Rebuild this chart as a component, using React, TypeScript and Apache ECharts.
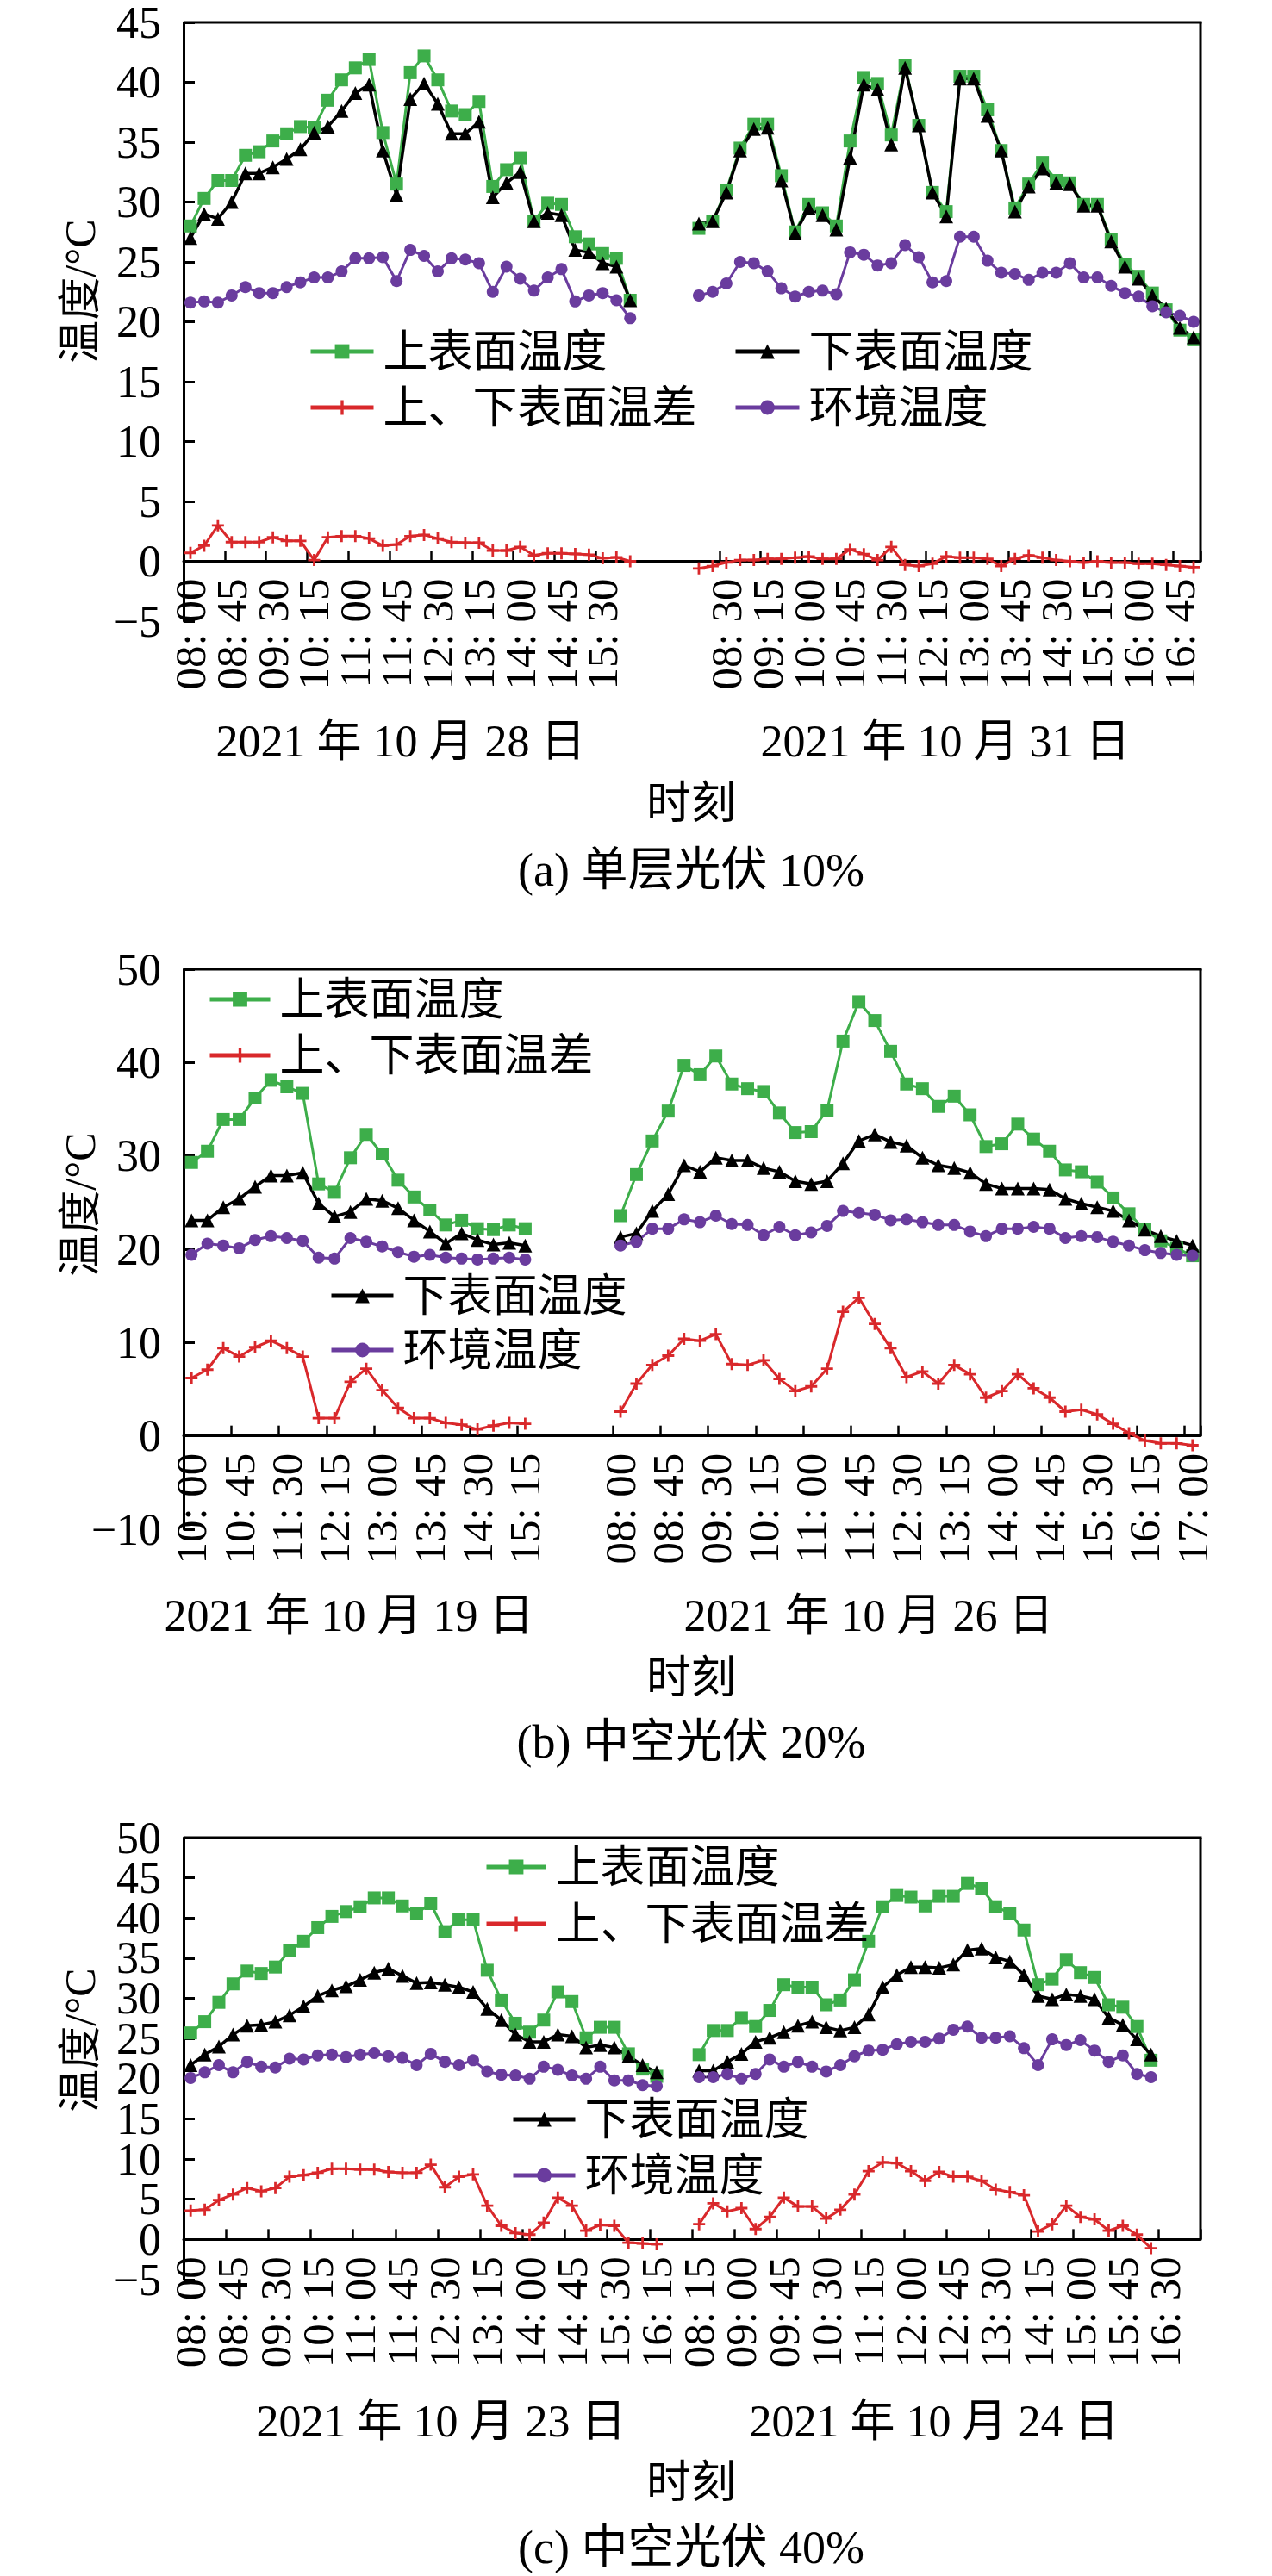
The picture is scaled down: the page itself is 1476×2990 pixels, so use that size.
import React, { useEffect, useRef } from "react";
import * as echarts from "echarts";

const FONT = "'Liberation Serif', 'Noto Sans CJK SC', serif";

// ---------- category helpers (15-minute time stamps, gaps between days) ----------
function timeLabels(prefix: string, start: string, count: number): string[] {
  const [h, m] = start.split(":").map(Number);
  const out: string[] = [];
  for (let i = 0; i < count; i++) {
    const t = h * 60 + m + i * 15;
    const hh = String(Math.floor(t / 60)).padStart(2, "0");
    const mm = String(t % 60).padStart(2, "0");
    out.push(`${prefix}|${hh}: ${mm}`);
  }
  return out;
}
function gapLabels(prefix: string, n: number): string[] {
  return Array.from({ length: n }, (_, i) => `gap${prefix}${i}|`);
}

// ---------- categories ----------
const A_CATS = [...timeLabels("a1", "08:00", 33), ...gapLabels("a", 4), ...timeLabels("a2", "08:00", 37)];
const B_CATS = [...timeLabels("b1", "10:00", 22), ...gapLabels("b", 5), ...timeLabels("b2", "08:00", 37)];
const C_CATS = [...timeLabels("c1", "08:00", 34), ...gapLabels("c", 2), ...timeLabels("c2", "08:15", 36)];

// ---------- (a) 单层光伏 10% : 2021-10-28 / 2021-10-31 ----------
const A1_UPPER = [28.0, 30.3, 31.8, 31.8, 33.9, 34.2, 35.1, 35.7, 36.3, 36.2, 38.5, 40.2, 41.2, 41.9, 35.8, 31.5, 40.8, 42.2, 40.2, 37.6, 37.3, 38.4, 31.3, 32.7, 33.7, 28.4, 29.9, 29.8, 27.1, 26.5, 25.7, 25.3, 21.8];
const A1_LOWER = [27.0, 29.0, 28.6, 30.0, 32.4, 32.4, 32.9, 33.6, 34.4, 35.8, 36.3, 37.6, 39.1, 39.8, 34.3, 30.6, 38.6, 39.9, 38.2, 35.7, 35.7, 36.7, 30.4, 31.6, 32.5, 28.4, 29.1, 28.9, 26.0, 25.8, 24.9, 24.6, 21.8];
const A1_DIFF = [0.7, 1.3, 3.0, 1.6, 1.6, 1.6, 2.0, 1.7, 1.7, 0.1, 2.0, 2.1, 2.1, 1.9, 1.3, 1.4, 2.1, 2.2, 1.9, 1.6, 1.55, 1.55, 0.9, 0.9, 1.2, 0.5, 0.67, 0.67, 0.62, 0.55, 0.26, 0.33, 0.0];
const A1_ENV = [21.6, 21.7, 21.6, 22.2, 22.9, 22.4, 22.4, 22.9, 23.3, 23.7, 23.7, 24.2, 25.3, 25.3, 25.4, 23.4, 26.0, 25.5, 24.2, 25.3, 25.2, 24.9, 22.5, 24.6, 23.6, 22.6, 23.7, 24.4, 21.7, 22.2, 22.4, 21.8, 20.3];
const A2_UPPER = [27.8, 28.4, 31.0, 34.5, 36.5, 36.5, 32.2, 27.5, 29.8, 29.1, 28.0, 35.1, 40.4, 39.9, 35.6, 41.4, 36.4, 30.8, 29.2, 40.5, 40.5, 37.7, 34.3, 29.5, 31.5, 33.3, 31.8, 31.6, 29.8, 29.8, 26.9, 24.8, 23.8, 22.4, 21.0, 19.3, 18.5];
const A2_LOWER = [28.2, 28.4, 30.8, 34.3, 36.1, 36.2, 31.8, 27.4, 29.5, 28.9, 27.7, 33.7, 39.8, 39.4, 34.8, 41.2, 36.4, 30.8, 28.8, 40.3, 40.3, 37.2, 34.3, 29.2, 31.3, 32.8, 31.6, 31.5, 29.7, 29.7, 26.7, 24.6, 23.6, 22.2, 21.1, 19.5, 18.7];
const A2_DIFF = [-0.6, -0.4, -0.1, 0.1, 0.1, 0.2, 0.2, 0.3, 0.4, 0.2, 0.2, 1.0, 0.6, 0.1, 1.2, -0.3, -0.4, -0.2, 0.4, 0.3, 0.3, 0.2, -0.4, 0.2, 0.5, 0.3, 0.1, 0.0, -0.1, 0.0, -0.1, -0.1, -0.2, -0.2, -0.3, -0.4, -0.5];
const A2_ENV = [22.2, 22.5, 23.2, 25.0, 24.9, 24.2, 22.8, 22.1, 22.5, 22.6, 22.3, 25.8, 25.6, 24.7, 24.9, 26.4, 25.4, 23.3, 23.4, 27.1, 27.1, 25.1, 24.1, 24.0, 23.5, 24.1, 24.1, 24.9, 23.7, 23.7, 23.0, 22.4, 22.1, 21.3, 20.8, 20.5, 20.0];

// ---------- (b) 中空光伏 20% : 2021-10-19 / 2021-10-26 ----------
const B1_UPPER = [29.3, 30.5, 33.9, 33.9, 36.2, 38.1, 37.4, 36.7, 27.0, 26.1, 29.8, 32.3, 30.2, 27.4, 25.6, 24.2, 22.6, 23.1, 22.2, 22.1, 22.6, 22.2];
const B1_LOWER = [23.1, 23.1, 24.5, 25.4, 26.7, 27.9, 27.9, 28.2, 24.9, 23.5, 24.0, 25.4, 25.2, 24.4, 23.1, 21.9, 20.6, 21.7, 21.0, 20.5, 20.7, 20.4];
const B1_DIFF = [6.2, 7.1, 9.4, 8.5, 9.5, 10.2, 9.4, 8.5, 1.9, 1.9, 5.8, 7.2, 4.9, 3.0, 1.9, 1.9, 1.4, 1.2, 0.7, 1.1, 1.4, 1.3];
const B1_ENV = [19.4, 20.6, 20.4, 20.1, 21.0, 21.4, 21.2, 20.9, 19.1, 19.0, 21.2, 20.8, 20.3, 19.7, 19.2, 19.4, 19.1, 19.0, 18.9, 19.0, 19.1, 18.9];
const B2_UPPER = [23.6, 28.0, 31.6, 34.8, 39.7, 38.7, 40.7, 37.7, 37.2, 36.9, 34.6, 32.5, 32.6, 34.9, 42.3, 46.5, 44.5, 41.2, 37.7, 37.2, 35.3, 36.4, 34.4, 31.0, 31.3, 33.4, 31.8, 30.5, 28.5, 28.3, 27.2, 25.5, 23.8, 22.1, 20.9, 20.1, 19.3];
const B2_LOWER = [21.3, 21.7, 24.1, 25.9, 29.0, 28.3, 29.8, 29.5, 29.5, 28.7, 28.3, 27.3, 27.0, 27.3, 29.2, 31.6, 32.3, 31.5, 31.1, 29.8, 29.0, 28.7, 28.2, 27.0, 26.5, 26.5, 26.5, 26.4, 25.4, 24.9, 24.5, 24.1, 23.1, 22.1, 21.4, 20.9, 20.4];
const B2_DIFF = [2.6, 5.6, 7.6, 8.6, 10.4, 10.2, 10.9, 7.7, 7.6, 8.1, 6.1, 4.8, 5.3, 7.2, 13.3, 14.8, 12.0, 9.4, 6.3, 6.9, 5.6, 7.6, 6.6, 4.1, 4.8, 6.6, 5.1, 4.1, 2.6, 2.8, 2.3, 1.3, 0.3, -0.5, -0.8, -0.8, -1.0];
const B2_ENV = [20.4, 20.8, 22.2, 22.2, 23.2, 22.9, 23.6, 22.7, 22.6, 21.5, 22.4, 21.5, 21.8, 22.5, 24.1, 23.9, 23.7, 23.1, 23.2, 22.9, 22.6, 22.6, 21.9, 21.4, 22.2, 22.2, 22.4, 22.2, 21.2, 21.4, 21.3, 20.8, 20.4, 19.9, 19.6, 19.4, 19.3];

// ---------- (c) 中空光伏 40% : 2021-10-23 / 2021-10-24 ----------
const C1_UPPER = [25.7, 27.1, 29.5, 31.8, 33.4, 33.1, 33.9, 35.9, 37.1, 38.8, 40.2, 40.8, 41.4, 42.5, 42.5, 41.5, 40.6, 41.8, 38.3, 39.8, 39.8, 33.5, 29.8, 26.9, 25.8, 27.3, 30.8, 29.6, 25.1, 26.4, 26.4, 23.1, 21.2, 20.3];
const C1_LOWER = [21.7, 23.0, 24.0, 25.5, 26.6, 26.7, 27.1, 27.9, 29.0, 30.3, 31.0, 31.5, 32.3, 33.2, 33.7, 32.8, 31.9, 32.0, 31.7, 31.4, 30.8, 28.7, 27.3, 25.5, 24.6, 24.6, 25.5, 25.3, 23.9, 24.2, 23.9, 22.8, 21.7, 20.8];
const C1_DIFF = [3.6, 3.7, 4.9, 5.6, 6.4, 6.0, 6.4, 7.8, 8.0, 8.3, 8.8, 8.8, 8.7, 8.7, 8.4, 8.3, 8.3, 9.3, 6.5, 7.8, 8.1, 4.2, 1.7, 0.8, 0.6, 2.1, 5.2, 4.2, 1.1, 1.8, 1.7, -0.4, -0.5, -0.6];
const C1_ENV = [20.1, 20.8, 21.7, 20.8, 22.1, 21.5, 21.4, 22.5, 22.4, 22.9, 23.0, 22.7, 23.0, 23.2, 22.8, 22.6, 21.7, 23.1, 22.1, 21.7, 22.3, 20.9, 20.5, 20.4, 20.0, 21.5, 21.1, 20.4, 20.0, 21.5, 19.8, 19.8, 19.2, 19.1];
const C2_UPPER = [23.0, 26.0, 26.0, 27.6, 26.5, 28.5, 31.7, 31.4, 31.4, 29.2, 29.8, 32.3, 37.1, 41.4, 42.8, 42.6, 41.5, 42.7, 42.7, 44.3, 43.7, 41.4, 40.6, 38.5, 31.7, 32.4, 34.8, 33.2, 32.6, 29.2, 28.9, 26.5, 22.3];
const C2_LOWER = [21.0, 21.0, 22.1, 23.1, 24.6, 25.1, 25.8, 26.6, 27.1, 26.4, 26.0, 26.4, 28.0, 31.4, 32.9, 33.9, 33.9, 33.8, 34.2, 36.0, 36.2, 35.1, 34.6, 32.9, 30.3, 29.9, 30.5, 30.3, 29.9, 27.6, 26.7, 24.9, 23.0];
const C2_DIFF = [1.9, 4.5, 3.5, 3.9, 1.3, 2.8, 5.2, 4.1, 4.1, 2.6, 3.7, 5.6, 8.5, 9.6, 9.5, 8.5, 7.3, 8.4, 7.8, 7.8, 7.3, 6.2, 5.9, 5.5, 1.0, 1.9, 4.2, 2.8, 2.5, 1.1, 1.7, 0.6, -1.1];
const C2_ENV = [20.2, 20.2, 20.6, 20.0, 20.6, 22.4, 21.5, 22.1, 21.5, 20.9, 21.7, 22.8, 23.5, 23.6, 24.3, 24.6, 24.6, 25.0, 26.1, 26.5, 25.1, 25.1, 25.3, 23.8, 21.7, 24.9, 24.2, 24.8, 23.5, 22.1, 22.9, 20.6, 20.2];

// ---------- styles ----------
const PLUS = "path://M4,0H6V4H10V6H6V10H4V6H0V4H4Z";
const S_UPPER = { name: "上表面温度", color: "#3DAE4A", symbol: "rect", size: 15, width: 3 };
const S_LOWER = { name: "下表面温度", color: "#000000", symbol: "triangle", size: 16, width: 3.5 };
const S_DIFF = { name: "上、下表面温差", color: "#D9282B", symbol: PLUS, size: 14, width: 3 };
const S_ENV = { name: "环境温度", color: "#6A3C9E", symbol: "circle", size: 14, width: 3 };

function join(d1: number[], gap: number, d2: number[]) {
  return [...d1, ...Array(gap).fill(null), ...d2];
}

const PANELS = [
  {
    grid: { left: 213, top: 26, width: 1180, height: 695 },
    y: { min: -5, max: 45, interval: 5 },
    cats: A_CATS,
    series: [
      [S_UPPER, join(A1_UPPER, 4, A2_UPPER)],
      [S_LOWER, join(A1_LOWER, 4, A2_LOWER)],
      [S_DIFF, join(A1_DIFF, 4, A2_DIFF)],
      [S_ENV, join(A1_ENV, 4, A2_ENV)],
    ],
    legends: [
      [S_UPPER, 358, 408, 73],
      [S_LOWER, 851, 408, 74],
      [S_DIFF, 358, 473, 73],
      [S_ENV, 851, 473, 74],
    ],
    dates: [["2021 年 10 月 28 日", 465], ["2021 年 10 月 31 日", 1097]],
    dateY: 860,
    xNameY: 932,
    caption: "(a) 单层光伏 10%",
    captionY: 1010,
    yNameY: 338,
  },
  {
    grid: { left: 213, top: 1125, width: 1180, height: 650 },
    y: { min: -10, max: 50, interval: 10 },
    cats: B_CATS,
    series: [
      [S_UPPER, join(B1_UPPER, 5, B2_UPPER)],
      [S_LOWER, join(B1_LOWER, 5, B2_LOWER)],
      [S_DIFF, join(B1_DIFF, 5, B2_DIFF)],
      [S_ENV, join(B1_ENV, 5, B2_ENV)],
    ],
    legends: [
      [S_UPPER, 241, 1160, 70],
      [S_DIFF, 241, 1225, 70],
      [S_LOWER, 382, 1504, 72],
      [S_ENV, 382, 1567, 72],
    ],
    dates: [["2021 年 10 月 19 日", 405], ["2021 年 10 月 26 日", 1008]],
    dateY: 1875,
    xNameY: 1947,
    caption: "(b) 中空光伏 20%",
    captionY: 2022,
    yNameY: 1398,
  },
  {
    grid: { left: 213, top: 2133, width: 1180, height: 513 },
    y: { min: -5, max: 50, interval: 5 },
    cats: C_CATS,
    series: [
      [S_UPPER, join(C1_UPPER, 2, C2_UPPER)],
      [S_LOWER, join(C1_LOWER, 2, C2_LOWER)],
      [S_DIFF, join(C1_DIFF, 2, C2_DIFF)],
      [S_ENV, join(C1_ENV, 2, C2_ENV)],
    ],
    legends: [
      [S_UPPER, 562, 2167, 69],
      [S_DIFF, 562, 2233, 69],
      [S_LOWER, 593, 2460, 72],
      [S_ENV, 593, 2525, 72],
    ],
    dates: [["2021 年 10 月 23 日", 512], ["2021 年 10 月 24 日", 1084]],
    dateY: 2810,
    xNameY: 2881,
    caption: "(c) 中空光伏 40%",
    captionY: 2957,
    yNameY: 2368,
  },
];

const showIdx = (i: number, v: string) => !String(v).startsWith("gap") && i % 3 === 0;

function buildOption() {
  const grid: any[] = [];
  const xAxis: any[] = [];
  const yAxis: any[] = [];
  const series: any[] = [];
  const legend: any[] = [];
  PANELS.forEach((p, gi) => {
    grid.push({ ...p.grid, containLabel: false });
    // ECharts keeps x labels at the grid bottom even when the line sits on y=0;
    // pull them back up so they start just below the zero line.
    const belowZero = (p.grid.height * (0 - p.y.min)) / (p.y.max - p.y.min);
    xAxis.push({
      type: "category",
      gridIndex: gi,
      data: p.cats,
      boundaryGap: true,
      axisLine: { show: true, onZero: true, lineStyle: { color: "#000", width: 3 } },
      axisTick: { show: true, inside: true, length: 12, interval: showIdx, lineStyle: { color: "#000", width: 2.5 } },
      axisLabel: {
        interval: 0,
        hideOverlap: false,
        rotate: 90,
        margin: 20 - belowZero,
        fontSize: 51,
        fontFamily: FONT,
        color: "#000",
        formatter: (v: string, i: number) => (showIdx(i, v) ? v.split("|")[1] || "" : ""),
      },
      splitLine: { show: false },
    });
    yAxis.push({
      type: "value",
      gridIndex: gi,
      min: p.y.min,
      max: p.y.max,
      interval: p.y.interval,
      axisLine: { show: true, onZero: false, lineStyle: { color: "#000", width: 3 } },
      axisTick: { show: true, inside: true, length: 13, lineStyle: { color: "#000", width: 3 } },
      axisLabel: { show: false },
      splitLine: { show: false },
    });
    p.series.forEach(([s, data]: any) => {
      series.push({
        type: "line",
        name: s.name,
        xAxisIndex: gi,
        yAxisIndex: gi,
        data,
        connectNulls: false,
        symbol: s.symbol,
        symbolSize: s.size,
        showAllSymbol: true,
        itemStyle: { color: s.color },
        lineStyle: { color: s.color, width: s.width },
        emphasis: { disabled: true },
      });
    });
    p.legends.forEach(([s, left, yc, w]: any) => {
      legend.push({
        data: [s.name],
        left,
        top: yc - 28,
        orient: "horizontal",
        padding: 0,
        itemWidth: w,
        itemHeight: 21,
        selectedMode: false,
        lineStyle: { width: 5 },
        textStyle: { fontSize: 52, lineHeight: 56, fontFamily: FONT, color: "#000", padding: [0, 0, 0, 6] },
      });
    });
  });
  return { animation: false, backgroundColor: "#fff", grid, xAxis, yAxis, series, legend };
}

function txt(text: string, x: number, y: number, size: number, rotation = 0, align = "center") {
  return {
    type: "text",
    x,
    y,
    rotation,
    z: 10,
    style: {
      text,
      fill: "#000",
      fontSize: size,
      fontFamily: FONT,
      align,
      verticalAlign: "middle",
      textAlign: align,
      textVerticalAlign: "middle",
    },
  };
}

function buildGraphic(chart: any) {
  const els: any[] = [];
  PANELS.forEach((p, gi) => {
    const { left, top, width } = p.grid;
    const right = left + width;
    const y0 = chart.convertToPixel({ yAxisIndex: gi }, 0) as number;
    els.push({ type: "line", z: 10, shape: { x1: left, y1: top, x2: right + 1.5, y2: top }, style: { stroke: "#000", lineWidth: 3 } });
    els.push({ type: "line", z: 10, shape: { x1: right, y1: top, x2: right, y2: y0 }, style: { stroke: "#000", lineWidth: 3 } });
    // y-axis tick labels, placed through the axis scale
    for (let v = p.y.min; v <= p.y.max + 1e-9; v += p.y.interval) {
      const py = chart.convertToPixel({ yAxisIndex: gi }, v) as number;
      els.push(txt(v < 0 ? "\u2212" + Math.abs(v) : String(v), left - 26, py, 52, 0, "right"));
    }
    p.dates.forEach(([t, x]: any) => els.push(txt(t, x, p.dateY, 52)));
    els.push(txt("时刻", 802, p.xNameY, 52));
    els.push(txt(p.caption, 802, p.captionY, 54));
    els.push(txt("温度/°C", 93, p.yNameY, 50, Math.PI / 2));
  });
  return els;
}

export default function App() {
  const ref = useRef<HTMLDivElement>(null);
  useEffect(() => {
    const chart = echarts.init(ref.current!, null, { renderer: "svg" });
    chart.setOption(buildOption() as any);
    chart.setOption({ graphic: buildGraphic(chart) } as any);
    return () => chart.dispose();
  }, []);
  return (
    <div
      ref={ref}
      style={{ position: "absolute", left: 0, top: 0, width: 1476, height: 2990, background: "#fff" }}
    />
  );
}
